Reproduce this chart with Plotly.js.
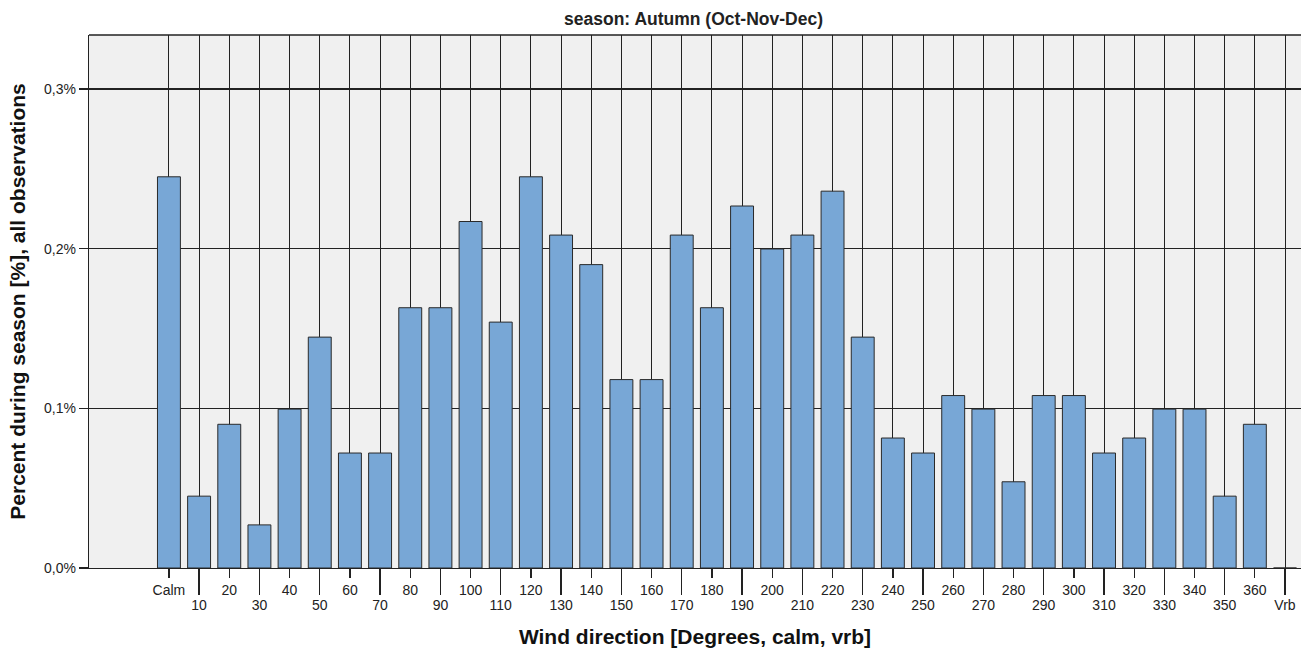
<!DOCTYPE html>
<html>
<head>
<meta charset="utf-8">
<script src="https://cdn.plot.ly/plotly-3.0.1.min.js"></script>
<style>html,body{margin:0;padding:0;background:#fff;}#chart{width:1316px;height:653px;}</style>
</head>
<body>
<div id="chart"></div>
<script>
const categories = ["Calm","10","20","30","40","50","60","70","80","90","100","110","120","130","140","150","160","170","180","190","200","210","220","230","240","250","260","270","280","290","300","310","320","330","340","350","360","Vrb"];
const percentValues = [0.245,0.045,0.090,0.027,0.0995,0.1446,0.072,0.072,0.163,0.163,0.217,0.154,0.245,0.2085,0.190,0.118,0.118,0.2085,0.163,0.2267,0.1998,0.2085,0.236,0.1446,0.0814,0.072,0.108,0.0995,0.054,0.108,0.108,0.072,0.0814,0.0995,0.0995,0.045,0.090,0];
const yTickVals = [0,0.1,0.2,0.3];
const yTickLabels = ["0,0%","0,1%","0,2%","0,3%"];
const chartTitle = "season: Autumn (Oct-Nov-Dec)";
const xTitle = "Wind direction [Degrees, calm, vrb]";
const yTitle = "Percent during season [%], all observations";

const positions = categories.map((c,i)=>i);
const evenPos = positions.filter(i=>i%2===0);
const oddPos = positions.filter(i=>i%2===1);
const evenCats = evenPos.map(i=>categories[i]);
const oddCats = oddPos.map(i=>categories[i]);
const font = "Liberation Sans, Arial, sans-serif";
const xRange = [-2.65, 37.53];

const trace = {
  type:'bar', x:positions, y:percentValues, width:0.76,
  marker:{color:'#78a7d6', line:{color:'#2a2a2a', width:1}},
  hoverinfo:'none'
};
const axisCommon = {
  type:'linear', range:xRange, tickmode:'array',
  ticks:'outside', tickwidth:1.3, tickcolor:'#222',
  showgrid:true, gridcolor:'#222', gridwidth:1, zeroline:false,
  tickfont:{family:font, size:14, color:'#222'}, fixedrange:true
};
const layout = {
  width:1316, height:653,
  margin:{l:89, r:15, t:35, b:85},
  paper_bgcolor:'#ffffff', plot_bgcolor:'#f0f0f0',
  showlegend:false,
  font:{family:font, size:14, color:'#222'},
  title:{text:'<b>'+chartTitle+'</b>', font:{family:font, size:17.5, color:'#222'}, x:0.527, xanchor:'center', y:0.971, yanchor:'middle'},
  xaxis:Object.assign({}, axisCommon, {
    tickvals:evenPos, ticktext:evenCats, ticklen:9, ticklabelstandoff:0,
    showline:true, linecolor:'#222', linewidth:1.3,
    title:{text:'<b>'+xTitle+'</b>', font:{family:font, size:21, color:'#111'}, standoff:32}
  }),
  xaxis2:Object.assign({}, axisCommon, {
    overlaying:'x', anchor:'y', side:'bottom',
    tickvals:oddPos, ticktext:oddCats, ticklen:26, ticklabelstandoff:-2,
    showline:false
  }),
  yaxis:{
    range:[0,0.3338], tickmode:'array', tickvals:yTickVals, ticktext:yTickLabels,
    ticks:'outside', ticklen:9, tickwidth:1.3, tickcolor:'#222',
    showgrid:true, gridcolor:'#222', gridwidth:1.2, zeroline:false,
    showline:true, linecolor:'#222', linewidth:1.3,
    tickfont:{family:font, size:14, color:'#222'},
    title:{text:'<b>'+yTitle+'</b>', font:{family:font, size:21, color:'#111'}, standoff:12},
    fixedrange:true
  },
  shapes:[{type:'line', xref:'paper', yref:'paper', x0:0, x1:1, y0:1, y1:1, line:{color:'#222', width:1.3}}]
};
const dummy = {type:'scatter', x:[], y:[], xaxis:'x2', yaxis:'y', hoverinfo:'none', showlegend:false};
Plotly.newPlot('chart',[trace, dummy],layout,{displayModeBar:false, staticPlot:true});
</script>
</body>
</html>
